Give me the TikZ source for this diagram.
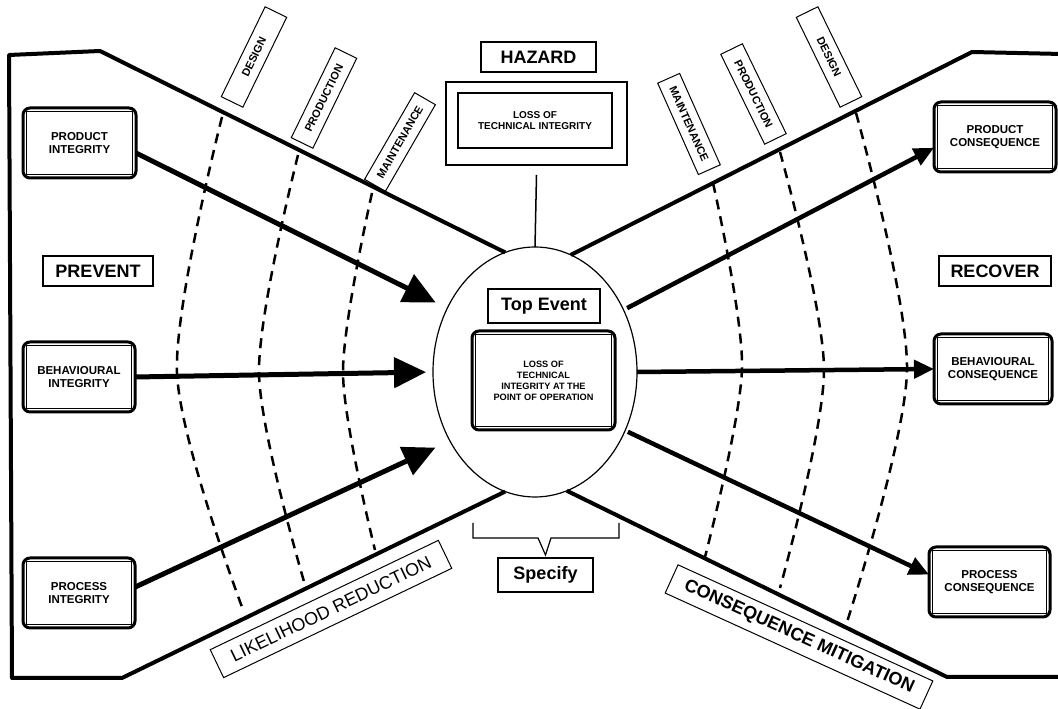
\documentclass[tikz,border=0pt]{standalone}
\usepackage{fontspec}
\setmainfont{Liberation Sans}
\usepackage{tikz}
\usetikzlibrary{
  arrows.meta,%
  calc,%
  % ellipse for the top event
  shapes.geometric,%
  positioning
}
\tikzset{>=latex}
\tikzset{
  outline/.style={line width=4pt, line join=round},
  ibox/.style={draw, line width=3pt, rounded corners=7pt, align=center,
    inner sep=2pt, outer sep=0pt, font=\fontsize{11.5}{12.5}\selectfont\bfseries,
    path picture={\draw[line width=0.8pt, sharp corners]
      ([shift={(3.5pt,3.5pt)}]path picture bounding box.south west) rectangle
      ([shift={(-3.5pt,-3.5pt)}]path picture bounding box.north east);}},
  pbox/.style={draw, line width=1.5pt, inner sep=2pt, outer sep=0pt,
    font=\fontsize{18}{20}\selectfont\bfseries},
  tag/.style={draw, line width=1pt, minimum width=100pt, minimum height=24pt,
    inner sep=1pt, font=\fontsize{11}{12}\selectfont\bfseries},
  band/.style={draw, line width=1pt, minimum height=31pt, inner sep=1pt,
    font=\fontsize{18}{20}\selectfont},
  barrier/.style={line width=2.5pt, dash pattern=on 10pt off 7pt},
  bigarr/.style={line width=5pt, -{Triangle[length=32pt,width=30pt]}},
  smallarr/.style={line width=4.5pt, -{Triangle[length=20pt,width=18pt]}}
}

\begin{document}
\begin{tikzpicture}[x=1pt, y=1pt]
  \useasboundingbox (0,0) rectangle (1058,709);
  \clip (0,0) rectangle (1058,709);

  % top event
  \node[ellipse, draw, line width=1.2pt, minimum width=204pt, minimum height=250pt,
    inner sep=0pt, outer sep=0pt] (ell) at (535,337) {};
  \node[pbox, minimum width=112pt, minimum height=34pt] (te) at (544,403) {Top Event};
  \node[ibox, minimum width=143pt, minimum height=99pt,
    font=\fontsize{9.2}{11}\selectfont\bfseries] (lt) at (543.5,328.5)
    {LOSS OF\\TECHNICAL\\INTEGRITY AT THE\\POINT OF OPERATION};

  % hazard
  \node[pbox, minimum width=115pt, minimum height=30pt] (haz) at (538.5,652) {HAZARD};
  \node[draw, line width=1.5pt, minimum width=181pt, minimum height=83pt,
    outer sep=0pt] (hzo) at (536.5,585.5) {};
  \node[draw, line width=1.5pt, minimum width=154pt, minimum height=55pt, align=center,
    font=\fontsize{10}{11}\selectfont\bfseries] (hzi) at (535,588.5)
    {LOSS OF\\TECHNICAL INTEGRITY};
  \draw[line width=1.5pt] ([yshift=-10pt]hzo.south) -- (ell.north);

  % threats and consequences
  \node[ibox, minimum width=113pt, minimum height=70pt] (pi) at (79.5,566) {PRODUCT\\INTEGRITY};
  \node[ibox, minimum width=112pt, minimum height=70pt] (bi) at (79,332) {BEHAVIOURAL\\INTEGRITY};
  \node[ibox, minimum width=112pt, minimum height=70pt] (pri) at (79,116) {PROCESS\\INTEGRITY};
  \node[ibox, minimum width=122pt, minimum height=70pt] (pc) at (995,572) {PRODUCT\\CONSEQUENCE};
  \node[ibox, minimum width=118pt, minimum height=70pt] (bc) at (993,340) {BEHAVIOURAL\\CONSEQUENCE};
  \node[ibox, minimum width=121pt, minimum height=70pt] (prc) at (989.5,127) {PROCESS\\CONSEQUENCE};

  \node[pbox, minimum width=110pt, minimum height=30pt] (prev) at (98,438) {PREVENT};
  \node[pbox, minimum width=112pt, minimum height=30pt] (rec) at (995,438) {RECOVER};
  \node[pbox, minimum width=95pt, minimum height=34pt] (spec) at (545.5,134) {Specify};
  \draw[line width=1.2pt] ($(spec.north)+(-72.5,35)$) -- ++(0,-15) -- ++(65,0)
    -- ($(spec.north)+(0,3)$) -- ($(spec.north)+(5.5,20)$) -- ++(68,0) -- ++(0,15);

  % bow tie outline
  \draw[outline] (ell.104) -- (100,658) -- (9,654) -- (12,31) -- (122,31) -- (ell.-104);
  \draw[outline] (ell.73) -- (972,657) -- (1062,655);
  \draw[outline] (ell.-75) -- (947,32) -- (1062,32);

  % barriers
  \foreach \xa/\ya/\xb/\yb/\xc/\yc in {222/592/177/336/242/102, 298/554/259/336/305/124,
      372/516/343/336/375/159, 713/526/742/341/705/152, 780/557/824/339/780/121,
      856/596/907/339/847/87}
    \draw[barrier] plot[smooth] coordinates {(\xa,\ya) (\xb,\yb) (\xc,\yc)};

  \foreach \n/\x/\y/\r/\t in {dl/254/652/64/DESIGN, pl/324/611/64/PRODUCTION,
      ml/400/567/60/MAINTENANCE, mr/689/585/-66/MAINTENANCE,
      pdr/753.5/615/-64/PRODUCTION, dr/829/652/-64/DESIGN}
    \node[tag, rotate=\r] (\n) at (\x,\y) {\t};

  \node[band, rotate=25.6, minimum width=253pt] (lr) at (331,100) {LIKELIHOOD REDUCTION};
  \node[band, rotate=-24.5, minimum width=280pt, font=\fontsize{18}{20}\selectfont\bfseries]
    (cm) at (799,72) {CONSEQUENCE MITIGATION};

  % arrows
  \draw[bigarr, shorten >=13pt] (pi.-10) -- (ell.144);
  \draw[bigarr, shorten >=7pt] (bi.east) -- (ell.west);
  \draw[bigarr, shorten >=16pt] (pri.6) -- (ell.219);
  \draw[smallarr, shorten <=4pt] (ell.35) -- (pc.190);
  \draw[smallarr] (ell.east) -- (bc.west);
  \draw[smallarr, shorten <=3pt] (ell.-33) -- (prc.173);
\end{tikzpicture}
\end{document}
